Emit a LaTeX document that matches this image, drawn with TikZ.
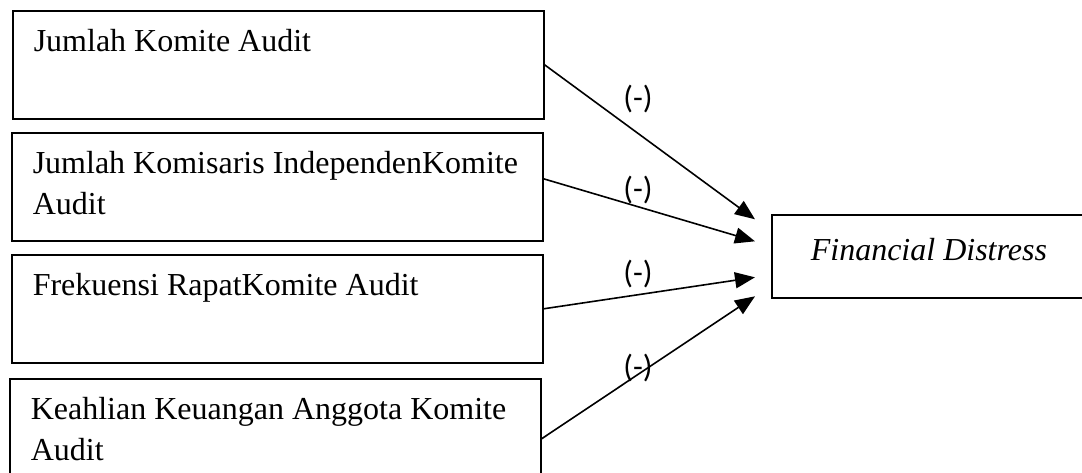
\documentclass[tikz,border=0pt]{standalone}
\usepackage{fontspec}
\setmainfont{Liberation Serif}
\newfontfamily\labelfont{Carlito}
\usetikzlibrary{arrows.meta}

\newcommand{\vartext}[2]{\parbox[t]{#1}{\raggedright\hyphenpenalty=10000 #2}}

\tikzset{
  varbox/.style={draw, line width=1.6pt, anchor=north west, minimum width=531pt,
    minimum height=108pt, inner xsep=21pt, inner ysep=0pt,
    text height=41pt, text depth=67pt, font=\fontsize{32}{41}\selectfont},
  fdbox/.style={draw, line width=1.6pt, anchor=north west, minimum width=330pt,
    minimum height=83pt, inner xsep=39pt, inner ysep=0pt,
    text height=46pt, text depth=37pt, font=\fontsize{32}{41}\selectfont\itshape},
  link/.style={line width=1.6pt, -{Triangle[length=20pt,width=16pt]}},
  sign/.style={font=\labelfont\fontsize{32}{36}\selectfont, inner sep=0pt},
}

\begin{document}
\begin{tikzpicture}[x=1pt, y=-1pt]
    \useasboundingbox (0,0) rectangle (1082,472);
    %%%BOXES%%%
    \node[varbox] (jka) at (12,10) {\vartext{489pt}{Jumlah Komite Audit}};
    \node[varbox] (jki) at (11,132) {\vartext{489pt}{Jumlah Komisaris IndependenKomite\\Audit}};
    \node[varbox] (frk) at (11,254) {\vartext{489pt}{Frekuensi RapatKomite Audit}};
    \node[varbox] (kka) at (9,378) {\vartext{489pt}{Keahlian Keuangan Anggota Komite\\Audit}};
    \node[fdbox] (fd) at (771,214) {\vartext{252pt}{Financial Distress}};
    %arrows
    \draw[link] (jka.east) -- ([xshift=-16pt,yshift=37pt]fd.west);
    \draw[link] ([yshift=8pt]jki.east) -- ([xshift=-16pt,yshift=15pt]fd.west);
    \draw[link] (frk.east) -- ([xshift=-16pt,yshift=-21pt]fd.west);
    \draw[link] ([yshift=-6pt]kka.east) -- ([xshift=-16pt,yshift=-40pt]fd.west);
    %signs
    \node[sign] (s1) at (638,99) {(-)};
    \node[sign] (s2) at (638,190) {(-)};
    \node[sign] (s3) at (638,274) {(-)};
    \node[sign] (s4) at (638,368) {(-)};
\end{tikzpicture}
\end{document}
